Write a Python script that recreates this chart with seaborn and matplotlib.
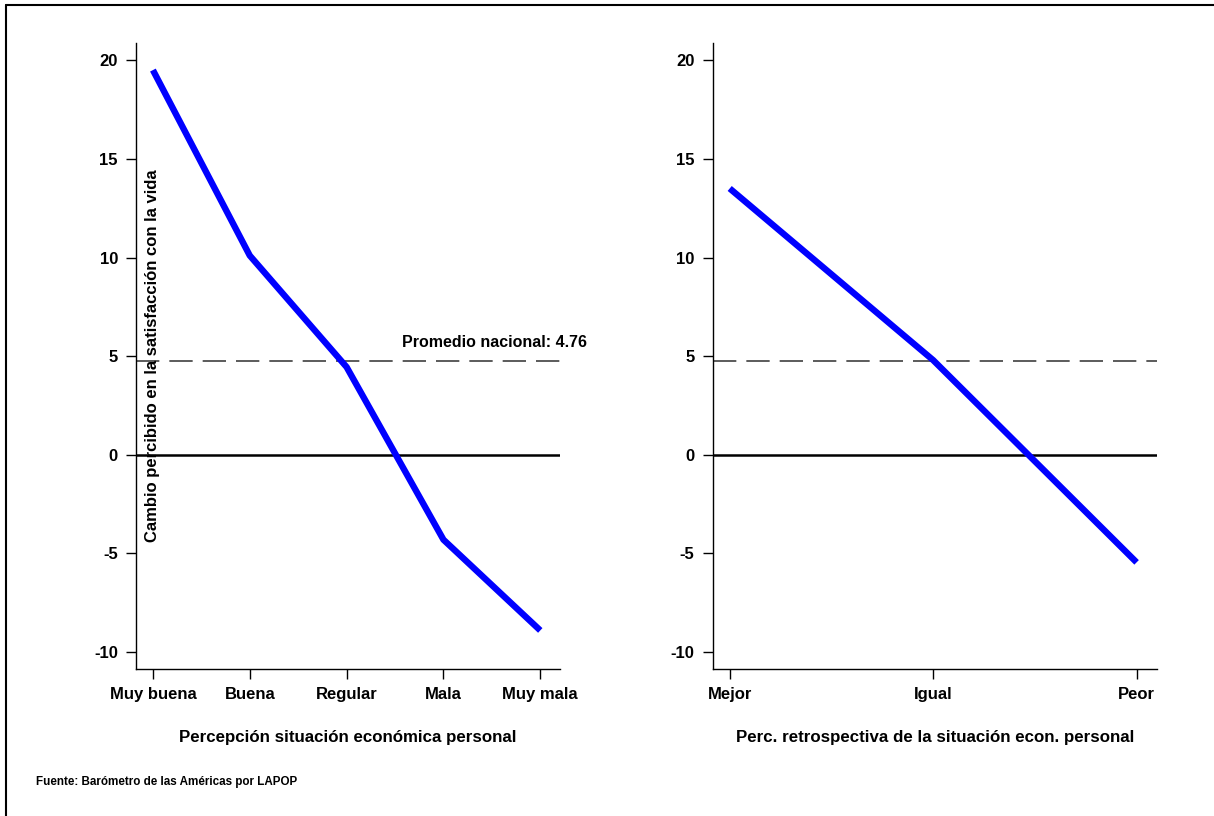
import pandas as pd
import seaborn as sns
import matplotlib
matplotlib.use("Agg")
import matplotlib.pyplot as plt
from matplotlib.lines import Line2D

# data
cats_actual = ["Muy buena", "Buena", "Regular", "Mala", "Muy mala"]
vals_actual = [19.5, 10.1, 4.45, -4.3, -8.9]
cats_retro = ["Mejor", "Igual", "Peor"]
vals_retro = [13.5, 4.8, -5.45]
promedio = 4.76
yticks = [-10, -5, 0, 5, 10, 15, 20]

sns.set_theme(style="white")
plt.rcParams["font.family"] = ["Liberation Sans", "DejaVu Sans"]
plt.rcParams["font.weight"] = "bold"
plt.rcParams["text.color"] = "black"
plt.rcParams["axes.labelcolor"] = "black"
plt.rcParams["xtick.color"] = "black"
plt.rcParams["ytick.color"] = "black"

fig = plt.figure(figsize=(12.14, 8.16), dpi=100)
ax1 = fig.add_axes([0.112, 0.180, 0.349, 0.767])
ax2 = fig.add_axes([0.587, 0.180, 0.366, 0.767])

panels = [
    (ax1, cats_actual, vals_actual, "Percepción situación económica personal", (-0.175, 4.2)),
    (ax2, cats_retro, vals_retro, "Perc. retrospectiva de la situación econ. personal", (-0.084, 2.1)),
]

for ax, cats, vals, xlabel, xlim in panels:
    df = pd.DataFrame({"pos": range(len(cats)), "val": vals})
    ax.axhline(0, color="black", lw=1.8, zorder=1)
    ax.axhline(promedio, color="#404040", lw=1.2, dashes=(14, 6), zorder=1)
    sns.lineplot(data=df, x="pos", y="val", ax=ax, color="#0000FF", lw=4.6, zorder=3,
                 solid_capstyle="butt")
    ax.set_xlim(*xlim)
    ax.set_ylim(-10.86, 20.86)
    ax.set_xticks(range(len(cats)))
    ax.set_xticklabels(cats, fontsize=12, fontweight="bold")
    ax.set_yticks(yticks)
    ax.set_yticklabels([str(t) for t in yticks], fontsize=12, fontweight="bold")
    ax.tick_params(axis="both", direction="out", length=7, width=1, color="black",
                   labelcolor="black", bottom=True, left=True, pad=6)
    ax.set_xlabel(xlabel, fontsize=12.2, fontweight="bold", labelpad=20, color="black")
    ax.set_ylabel("")
    sns.despine(ax=ax)
    for side in ["left", "bottom"]:
        ax.spines[side].set_color("black")
        ax.spines[side].set_linewidth(1)

ax1.text(2.57, promedio + 0.55, "Promedio nacional: " + str(promedio),
         ha="left", va="bottom", fontsize=11.5, fontweight="bold", color="black")

fig.text(0.126, 0.564, "Cambio percibido en la satisfacción con la vida",
         rotation=90, ha="center", va="center", fontsize=12, fontweight="bold", color="black")
fig.text(0.030, 0.042, "Fuente: Barómetro de las Américas por LAPOP",
         ha="left", va="center", fontsize=8.4, fontweight="bold", color="black")

# frame lines at top and left edges of the figure
fig.add_artist(Line2D([0.005, 1.0], [0.994, 0.994], transform=fig.transFigure, color="black", lw=1.5))
fig.add_artist(Line2D([0.005, 0.005], [0.0, 0.994], transform=fig.transFigure, color="black", lw=1.5))

fig.savefig("out.png", dpi=100)
